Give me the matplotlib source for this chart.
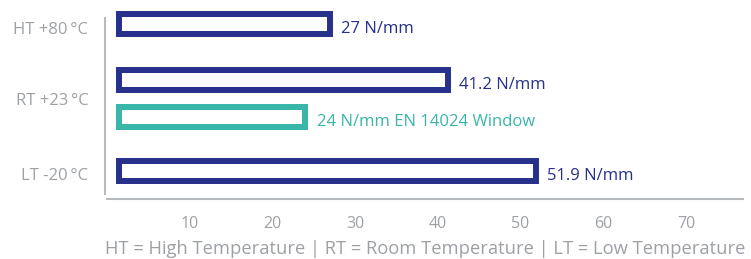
import matplotlib
matplotlib.use("Agg")
import matplotlib.pyplot as plt

# data
conditions = ["HT +80\u2009°C", "RT +23\u2009°C", "LT -20\u2009°C"]
bar_names = ["HT", "RT", "EN 14024 Window", "LT"]
bar_values = [27, 41.2, 24, 51.9]
bar_labels = ["27 N/mm", "41.2 N/mm", "24 N/mm EN 14024 Window", "51.9 N/mm"]
xticks = [10, 20, 30, 40, 50, 60, 70]
footnote = "HT = High Temperature | RT = Room Temperature | LT = Low Temperature"

NAVY = "#27308A"
TEAL = "#38B6A8"
GREY = "#9DA1A6"
LINE = "#B7BBBF"
bar_colors = [NAVY, NAVY, TEAL, NAVY]

plt.rcParams["font.family"] = ["Open Sans", "DejaVu Sans"]

W, H = 751, 259
fig = plt.figure(figsize=(W / 100, H / 100), dpi=100)
# axes laid out in pixel units of the figure
ax = fig.add_axes([107 / W, 1 - 199 / H, (743 - 107) / W, 199 / H])
ax.set_xlim(0, 76.9)
ax.set_ylim(199, 0)

# vertical layout (pixel rows inside the axes)
bar_rows = [24, 80, 117, 171]
label_rows = [28.5, 99, 174]
bar_h = 20
bar_start = 1.5

for v, y, c, lab in zip(bar_values, bar_rows, bar_colors, bar_labels):
    ax.barh(y, v - bar_start, left=bar_start, height=bar_h, facecolor="white",
            edgecolor=c, linewidth=4.3, zorder=3)
    ax.annotate(lab, (v, y + 5), xytext=(8, 0), textcoords="offset points",
                va="center", ha="left", color=c, fontsize=12)

ax.set_yticks(label_rows)
ax.set_yticklabels(conditions)
ax.set_xticks(xticks)
ax.set_xticklabels([str(t) for t in xticks])
ax.tick_params(axis="both", length=0, colors=GREY, labelsize=11.5)
ax.tick_params(axis="y", pad=12, labelsize=12)
ax.tick_params(axis="x", pad=12)

for s in ["top", "right"]:
    ax.spines[s].set_visible(False)
ax.spines["left"].set_color(LINE)
ax.spines["left"].set_linewidth(1.5)
ax.spines["left"].set_bounds(18, 194)
ax.spines["left"].set_position(("data", -0.25))
ax.spines["bottom"].set_color(LINE)
ax.spines["bottom"].set_linewidth(1.5)

ax.set_xlabel(footnote, color=GREY, fontsize=13.2, labelpad=6)

fig.savefig("out.png", dpi=100)
